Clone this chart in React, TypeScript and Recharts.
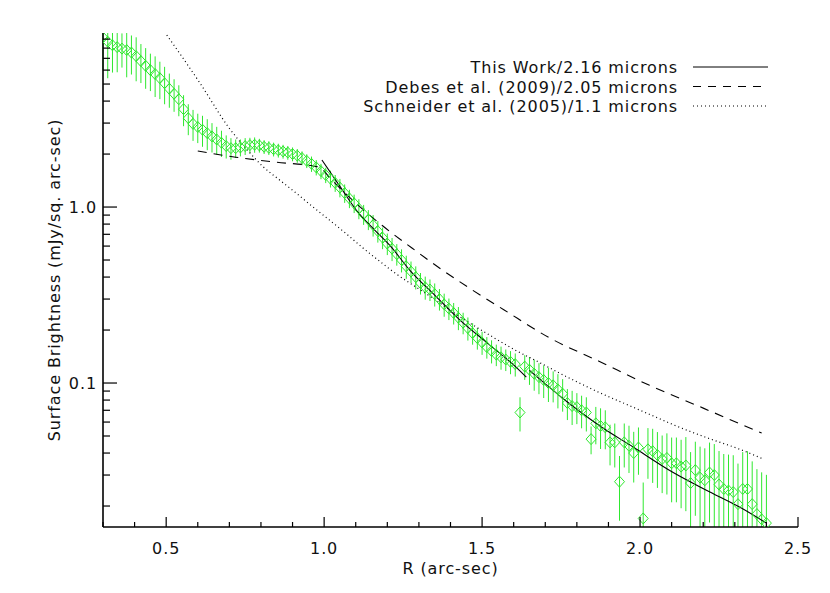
import React from 'react';
import { ComposedChart, Scatter, Line, XAxis, YAxis, ErrorBar, Legend } from 'recharts';

// ---- measured profile (green diamonds) ----
const radius = [
  0.300, 0.315, 0.330, 0.345, 0.360, 0.375, 0.390, 0.405, 0.420, 0.435,
  0.450, 0.465, 0.480, 0.495, 0.510, 0.525, 0.540, 0.555, 0.570, 0.585,
  0.600, 0.615, 0.630, 0.645, 0.660, 0.675, 0.690, 0.705, 0.720, 0.735,
  0.750, 0.765, 0.780, 0.795, 0.810, 0.825, 0.840, 0.855, 0.870, 0.885,
  0.900, 0.915, 0.930, 0.945, 0.960, 0.975, 0.990, 1.005, 1.020, 1.035,
  1.050, 1.065, 1.080, 1.095, 1.110, 1.125, 1.140, 1.155, 1.170, 1.185,
  1.200, 1.215, 1.230, 1.245, 1.260, 1.275, 1.290, 1.305, 1.320, 1.335,
  1.350, 1.365, 1.380, 1.395, 1.410, 1.425, 1.440, 1.455, 1.470, 1.485,
  1.500, 1.515, 1.530, 1.545, 1.560, 1.575, 1.590, 1.605, 1.620, 1.635,
  1.650, 1.665, 1.680, 1.695, 1.710, 1.725, 1.740, 1.755, 1.770, 1.785,
  1.800, 1.815, 1.830, 1.845, 1.860, 1.875, 1.890, 1.905, 1.920, 1.935,
  1.950, 1.965, 1.980, 1.995, 2.010, 2.025, 2.040, 2.055, 2.070, 2.085,
  2.100, 2.115, 2.130, 2.145, 2.160, 2.175, 2.190, 2.205, 2.220, 2.235,
  2.250, 2.265, 2.280, 2.295, 2.310, 2.325, 2.340, 2.355, 2.370, 2.385,
  2.400,
];
const brightness = [
  9.2, 8.7, 8.3, 8.1, 7.95, 7.8, 7.55, 7.2, 6.75, 6.35,
  6.0, 5.7, 5.4, 5.05, 4.7, 4.4, 4.1, 3.6, 3.2, 2.97,
  2.85, 2.75, 2.63, 2.52, 2.42, 2.32, 2.22, 2.16, 2.16, 2.18,
  2.22, 2.25, 2.26, 2.24, 2.2, 2.17, 2.13, 2.1, 2.07, 2.04,
  2.0, 1.96, 1.9, 1.83, 1.76, 1.68, 1.6, 1.52, 1.45, 1.37,
  1.29, 1.2, 1.12, 1.05, 0.98, 0.91, 0.85, 0.79, 0.73, 0.67,
  0.62, 0.58, 0.54, 0.50, 0.46, 0.43, 0.40, 0.37, 0.35, 0.34,
  0.32, 0.30, 0.28, 0.265, 0.25, 0.235, 0.22, 0.205, 0.192, 0.18,
  0.17, 0.16, 0.152, 0.145, 0.14, 0.136, 0.132, 0.128, 0.068, 0.124,
  0.119, 0.113, 0.108, 0.104, 0.100, 0.097, 0.092, 0.087, 0.077, 0.074,
  0.073, 0.070, 0.068, 0.048, 0.059, 0.057, 0.056, 0.046, 0.046, 0.0275,
  0.046, 0.044, 0.040, 0.043, 0.017, 0.042, 0.041, 0.039, 0.037, 0.0375,
  0.035, 0.035, 0.0335, 0.034, 0.027, 0.032, 0.029, 0.028, 0.031, 0.030,
  0.0265, 0.025, 0.0245, 0.024, 0.0205, 0.025, 0.025, 0.0205, 0.018, 0.0168,
  0.016,
];
const errorPercent = [
  35, 38, 30, 28, 22, 30, 25, 28, 25, 26,
  24, 26, 24, 24, 22, 21, 20, 20, 20, 20,
  19, 20, 20, 19, 18, 17, 15, 14, 12, 11,
  11, 10, 10, 9, 9, 9, 9, 9, 9, 9,
  9, 9, 9, 9, 10, 10, 10, 10, 11, 11,
  12, 12, 12, 12, 13, 13, 13, 14, 14, 14,
  14, 15, 14, 15, 15, 14, 15, 14, 15, 14,
  15, 14, 15, 14, 14, 15, 14, 15, 14, 14,
  15, 14, 15, 14, 15, 14, 15, 15, 22, 16,
  18, 20, 20, 21, 22, 20, 22, 21, 20, 22,
  20, 21, 22, 18, 24, 26, 25, 26, 28, 40,
  28, 30, 32, 30, 60, 32, 34, 35, 36, 38,
  40, 40, 42, 45, 50, 45, 50, 52, 48, 50,
  55, 58, 60, 62, 70, 62, 64, 75, 80, 85,
  88,
];

// ---- "This Work" model (solid), two segments ----
const thisWorkInnerR = [0.993, 1.05, 1.11, 1.16, 1.21, 1.27, 1.35, 1.43, 1.52, 1.61, 1.64];
const thisWorkInnerV = [1.85, 1.31, 0.92, 0.74, 0.60, 0.44, 0.316, 0.228, 0.167, 0.122, 0.108];
const thisWorkOuterR = [1.65, 1.77, 1.873, 1.977, 2.105, 2.21, 2.316, 2.40];
const thisWorkOuterV = [0.118, 0.078, 0.057, 0.0434, 0.031, 0.0246, 0.0197, 0.016];

// ---- Debes et al. (2009) (dashed) ----
const debesR = [0.6, 0.72, 0.845, 0.965, 0.985, 1.025, 1.066, 1.186, 1.278, 1.373, 1.47, 1.57, 1.715, 1.87, 2.03, 2.2, 2.385];
const debesV = [2.08, 1.92, 1.80, 1.71, 1.68, 1.42, 1.2, 0.78, 0.585, 0.44, 0.337, 0.26, 0.18, 0.133, 0.097, 0.072, 0.052];

// ---- Schneider et al. (2005) (dotted) ----
const schneiderR = [0.502, 0.607, 0.70, 0.76, 0.806, 0.86, 0.914, 0.965, 1.018, 1.072, 1.123, 1.177, 1.218, 1.325, 1.43, 1.535, 1.61, 1.66, 1.77, 1.873, 1.977, 2.05, 2.105, 2.21, 2.316, 2.39];
const schneiderV = [9.5, 5.06, 2.8, 2.08, 1.70, 1.42, 1.19, 1.0, 0.84, 0.70, 0.585, 0.49, 0.43, 0.32, 0.238, 0.182, 0.152, 0.137, 0.108, 0.088, 0.073, 0.064, 0.058, 0.049, 0.042, 0.037];

// ---- axes ----
const xDomain = [0.3, 2.5];
const yDomain = [0.0152, 9.75];
const xTicks = [0.3, 0.4, 0.5, 0.6, 0.7, 0.8, 0.9, 1.0, 1.1, 1.2, 1.3, 1.4, 1.5, 1.6, 1.7, 1.8, 1.9, 2.0, 2.1, 2.2, 2.3, 2.4, 2.5];
const xMajor = [0.5, 1.0, 1.5, 2.0, 2.5];
const yTicks = [0.02, 0.03, 0.04, 0.05, 0.06, 0.07, 0.08, 0.09, 0.1, 0.2, 0.3, 0.4, 0.5, 0.6, 0.7, 0.8, 0.9, 1, 2, 3, 4, 5, 6, 7, 8, 9];
const yMajor = [0.1, 1];

const legendLabels = [
  'This Work/2.16 microns',
  'Debes et al. (2009)/2.05 microns',
  'Schneider et al. (2005)/1.1 microns',
];
const legendDash = ['0', '8 7', '1 3'];

const xLabel = 'R (arc-sec)';
const yLabel = 'Surface Brightness (mJy/sq. arc-sec)';

const GREEN = '#2fe82f';
const FONT = '"DejaVu Sans", Verdana, sans-serif';
const FS = 16;
const LS = 0.9;

// error bars are clipped to the plotted range
const points = radius.map((r, i) => {
  const v = brightness[i];
  const e = (v * errorPercent[i]) / 100;
  const low = Math.max(0, Math.min(e, v - yDomain[0]));
  const high = Math.max(0, Math.min(e, yDomain[1] - v));
  return { r, v, err: [low, high] };
});
const toLine = (rs: number[], vs: number[]) => rs.map((r, i) => ({ r, v: vs[i] }));
const thisWorkInner = toLine(thisWorkInnerR, thisWorkInnerV);
const thisWorkOuter = toLine(thisWorkOuterR, thisWorkOuterV);
const debes = toLine(debesR, debesV);
const schneider = toLine(schneiderR, schneiderV);

const isIn = (arr: number[], v: number) => arr.some((a) => Math.abs(a - v) < 1e-9);

const BottomTick = (p: any) => {
  const { x, y, payload } = p;
  const major = isIn(xMajor, payload.value);
  return (
    <g>
      <line x1={x} y1={y} x2={x} y2={y - (major ? 10 : 5)} stroke="#000" strokeWidth={1.2} />
      {major && (
        <text x={x} y={y + 27} textAnchor="middle" fontFamily={FONT} fontSize={FS} letterSpacing={LS} fill="#111">
          {payload.value.toFixed(1)}
        </text>
      )}
    </g>
  );
};
const TopTick = (p: any) => {
  const { x, y, payload } = p;
  const major = isIn(xMajor, payload.value);
  return <line x1={x} y1={y} x2={x} y2={y + (major ? 10 : 5)} stroke="#000" strokeWidth={1.2} />;
};
const LeftTick = (p: any) => {
  const { x, y, payload } = p;
  const major = isIn(yMajor, payload.value);
  return (
    <g>
      <line x1={x} y1={y} x2={x + (major ? 14 : 7)} y2={y} stroke="#000" strokeWidth={1.2} />
      {major && (
        <text x={x - 6} y={y + 6} textAnchor="end" fontFamily={FONT} fontSize={FS} letterSpacing={LS} fill="#111">
          {payload.value.toFixed(1)}
        </text>
      )}
    </g>
  );
};
const RightTick = (p: any) => {
  const { x, y, payload } = p;
  const major = isIn(yMajor, payload.value);
  return <line x1={x} y1={y} x2={x - (major ? 14 : 7)} y2={y} stroke="#000" strokeWidth={1.2} />;
};

const Diamond = (p: any) => {
  const { cx, cy } = p;
  if (cx == null || cy == null) return null;
  const w = 5;
  const h = 5.5;
  return (
    <polygon
      points={`${cx},${cy - h} ${cx + w},${cy} ${cx},${cy + h} ${cx - w},${cy}`}
      fill="none"
      stroke={GREEN}
      strokeWidth={1}
    />
  );
};

const LegendBox = () => (
  <svg width={822} height={130} style={{ display: 'block' }}>
    {legendLabels.map((label, i) => {
      const cy = 59 + i * 19.5;
      return (
        <g key={label}>
          <text x={670} y={cy + 6} textAnchor="end" fontFamily={FONT} fontSize={FS} letterSpacing={LS} fill="#111">
            {label}
          </text>
          <line x1={685} y1={cy} x2={760} y2={cy} stroke="#000" strokeWidth={i === 2 ? 1.2 : 1} strokeDasharray={legendDash[i]} />
        </g>
      );
    })}
  </svg>
);

export default function App() {
  return (
    <ComposedChart width={822} height={585} margin={{ top: 25, right: 32, bottom: 36, left: 5 }}>
      <XAxis
        dataKey="r"
        type="number"
        domain={xDomain}
        allowDataOverflow
        ticks={xTicks}
        interval={0}
        tickSize={0}
        tickMargin={0}
        height={30}
        tick={<BottomTick />}
        axisLine={{ stroke: '#000', strokeWidth: 1.6 }}
        tickLine={false}
        label={(props: any) => {
          const vb = props.viewBox;
          return (
            <text x={vb.x + vb.width / 2} y={vb.y + 47} textAnchor="middle" fontFamily={FONT} fontSize={FS} letterSpacing={LS} fill="#111">
              {xLabel}
            </text>
          );
        }}
      />
      <XAxis
        xAxisId="top"
        orientation="top"
        dataKey="r"
        type="number"
        domain={xDomain}
        allowDataOverflow
        ticks={xTicks}
        interval={0}
        tickSize={0}
        tickMargin={0}
        height={0}
        tick={<TopTick />}
        axisLine={{ stroke: '#000', strokeWidth: 1.6 }}
        tickLine={false}
      />
      <YAxis
        type="number"
        scale="log"
        domain={yDomain}
        allowDataOverflow
        ticks={yTicks}
        interval={0}
        tickSize={0}
        tickMargin={0}
        width={90}
        tick={<LeftTick />}
        axisLine={{ stroke: '#000', strokeWidth: 1.6 }}
        tickLine={false}
        label={(props: any) => {
          const vb = props.viewBox;
          const cx = vb.x + 41;
          const cy = vb.y + vb.height / 2;
          return (
            <text x={cx} y={cy} transform={`rotate(-90 ${cx} ${cy})`} textAnchor="middle" dominantBaseline="central" fontFamily={FONT} fontSize={FS} letterSpacing={LS} fill="#111">
              {yLabel}
            </text>
          );
        }}
      />
      <YAxis
        yAxisId="right"
        orientation="right"
        type="number"
        scale="log"
        domain={yDomain}
        allowDataOverflow
        ticks={yTicks}
        interval={0}
        tickSize={0}
        tickMargin={0}
        width={0}
        tick={<RightTick />}
        axisLine={{ stroke: '#000', strokeWidth: 1.6 }}
        tickLine={false}
      />
      <Scatter data={points} dataKey="v" shape={<Diamond />} isAnimationActive={false} legendType="none">
        <ErrorBar dataKey="err" direction="y" width={0} stroke={GREEN} strokeWidth={1} />
      </Scatter>
      <Line data={schneider} dataKey="v" type="monotone" stroke="#000" strokeWidth={1.2} strokeDasharray="1 3" dot={false} activeDot={false} isAnimationActive={false} legendType="none" />
      <Line data={debes} dataKey="v" type="monotone" stroke="#000" strokeWidth={1.1} strokeDasharray="9 7" dot={false} activeDot={false} isAnimationActive={false} legendType="none" />
      <Line data={thisWorkInner} dataKey="v" type="monotone" stroke="#000" strokeWidth={1.1} dot={false} activeDot={false} isAnimationActive={false} legendType="none" />
      <Line data={thisWorkOuter} dataKey="v" type="monotone" stroke="#000" strokeWidth={1.1} dot={false} activeDot={false} isAnimationActive={false} legendType="none" />
      <Legend
        layout="vertical"
        align="center"
        verticalAlign="middle"
        wrapperStyle={{ position: 'absolute', left: 0, top: 0, width: 822, height: 130, pointerEvents: 'none' }}
        content={() => <LegendBox />}
      />
    </ComposedChart>
  );
}
